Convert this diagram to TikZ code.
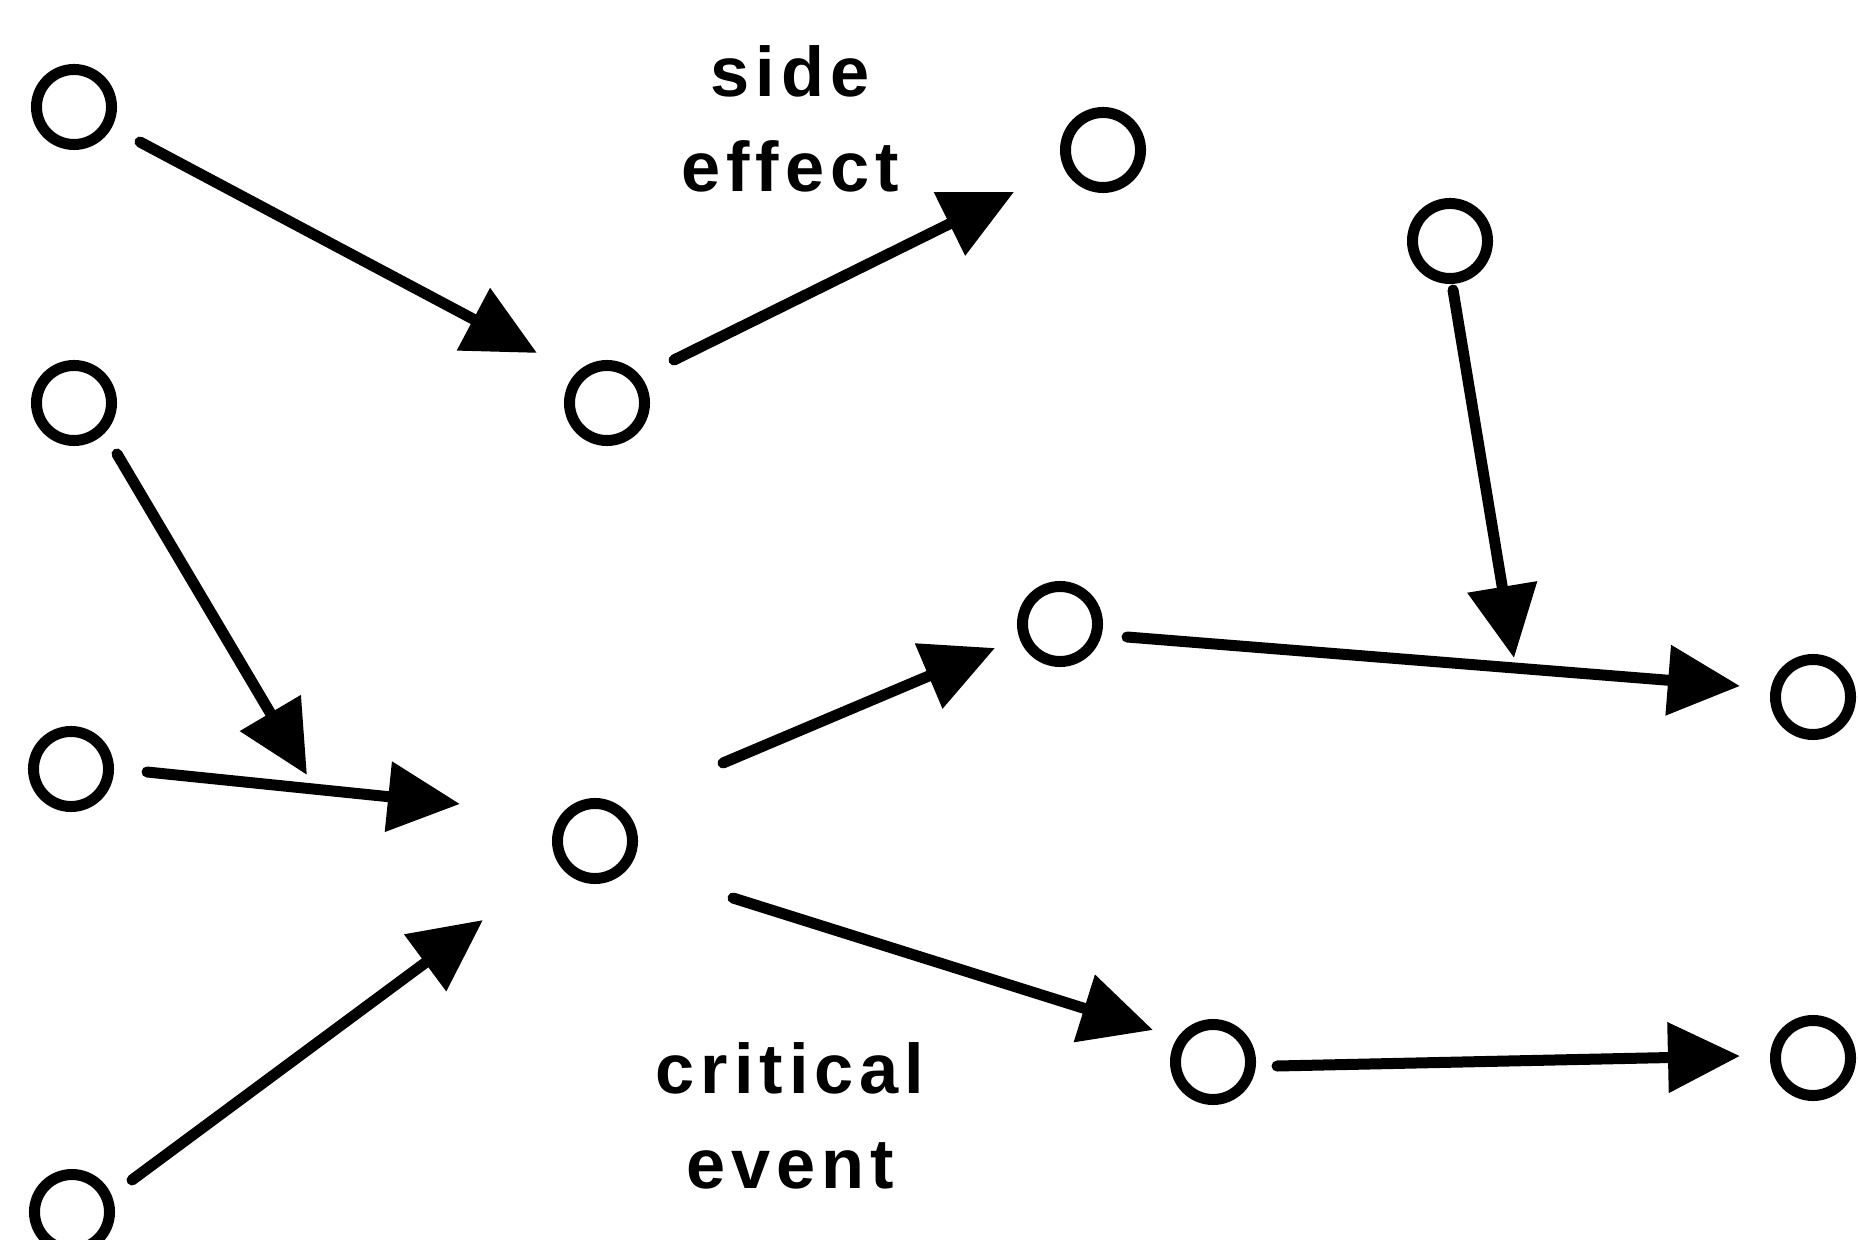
\documentclass[tikz,border=0pt]{standalone}
\usepackage{fontspec}
\setmainfont{Liberation Sans}[LetterSpace=8.5]
\usetikzlibrary{arrows.meta,calc}
\begin{document}
\begin{tikzpicture}[x=0.01cm,y=-0.01cm,
  ev/.style={draw,circle,line width=0.11cm,minimum size=0.75cm,inner sep=0pt},
  arr/.style={line width=0.11cm,line cap=round,-{Triangle[length=0.72cm,width=0.68cm]}},
  lbl/.style={font=\bfseries\fontsize{20}{27}\selectfont,align=center,inner sep=0pt,anchor=north}]
\clip (0,0) rectangle (1858,1240);
% events
\node[ev] (A) at (74,107) {};
\node[ev] (B) at (74,403) {};
\node[ev] (C) at (71,769) {};
\node[ev] (D) at (72,1212) {};
\node[ev] (E) at (607,403) {};
\node[ev] (F) at (1103,150) {};
\node[ev] (G) at (595,841) {};
\node[ev] (H) at (1450,241) {};
\node[ev] (I) at (1060,624) {};
\node[ev] (J) at (1813,697) {};
\node[ev] (K) at (1213,1062) {};
\node[ev] (L) at (1813,1058) {};
% labels
\node[lbl] (side) at (790,45) {side\\effect};
\node[lbl] (crit) at (790,1042) {critical\\event};
% arrow tips
\coordinate (tAE) at (537,353);
\coordinate (tEF) at (1014,192);
\coordinate (tBG) at (307,775);
\coordinate (tCG) at (460,804);
\coordinate (tDG) at (483,920);
\coordinate (tGI) at (995,648);
\coordinate (tGK) at (1153,1030);
\coordinate (tIJ) at (1740,686);
\coordinate (tH) at (1514,658);
\coordinate (tKL) at (1740,1056);
% connectors
\draw[arr] ($(A)+(66,35)$) -- (tAE);
\draw[arr] ($(E)+(67,-43)$) -- (tEF);
\draw[arr] ($(B)+(43,51)$) -- (tBG);
\draw[arr] ($(C)+(76,3)$) -- (tCG);
\draw[arr] ($(D)+(60,-32)$) -- (tDG);
\draw[arr] ($(G)+(128,-78)$) -- (tGI);
\draw[arr] ($(G)+(138,57)$) -- (tGK);
\draw[arr] ($(I)+(67,13)$) -- (tIJ);
\draw[arr] ($(H)+(3,49)$) -- (tH);
\draw[arr] ($(K)+(64,4)$) -- (tKL);
\end{tikzpicture}
\end{document}
